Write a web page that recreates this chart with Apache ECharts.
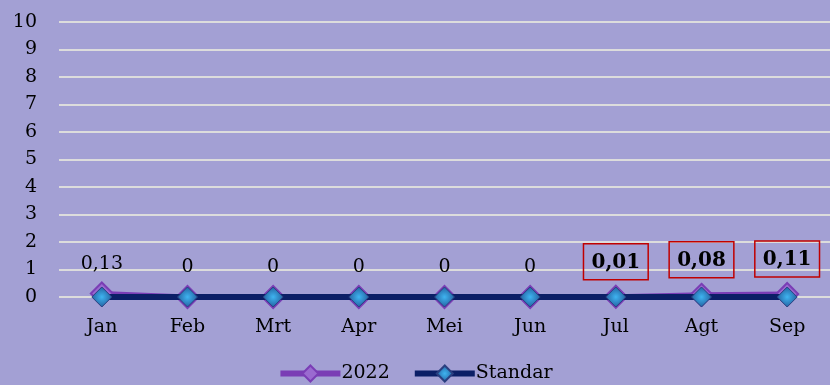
<!DOCTYPE html>
<html>
<head>
<meta charset="utf-8">
<script src="https://cdn.jsdelivr.net/npm/echarts@6/dist/echarts.min.js"></script>
<style>
html,body{margin:0;padding:0;background:#a3a0d4;}
#main{width:830px;height:385px;}
</style>
</head>
<body>
<div id="main"></div>
<script>
// data
var months = ['Jan','Feb','Mrt','Apr','Mei','Jun','Jul','Agt','Sep'];
var data2022 = [0.13, 0, 0, 0, 0, 0, 0.01, 0.08, 0.11];
var dataStandar = [0, 0, 0, 0, 0, 0, 0, 0, 0];
var boxedIdx = [6, 7, 8]; // label dengan kotak merah

var fontFam = '"DejaVu Serif", "Liberation Serif", serif';

var markerFill = new echarts.graphic.RadialGradient(0.5, 0.5, 0.6, [
    {offset: 0, color: '#3fb4f0'},
    {offset: 1, color: '#1d4f8f'}
]);

function fmt(v){
    return String(v).replace('.', ',');
}

var seriesData2022 = [];
for(var i=0;i<data2022.length;i++){
    var item = {value: data2022[i]};
    if(boxedIdx.indexOf(i) > -1){
        item.label = {
            fontWeight: 'bold',
            fontSize: 20,
            borderColor: '#c00000',
            borderWidth: 1.5,
            padding: [9, 8, 7, 8],
            distance: 5
        };
    }
    seriesData2022.push(item);
}

var myChart = echarts.init(document.getElementById('main'));
var option = {
    backgroundColor: '#a3a0d4',
    animation: false,
    grid: {left: 59, right: -10, top: 22, bottom: 88},
    legend: {
        bottom: -3,
        left: 'center',
        itemWidth: 60,
        itemHeight: 20,
        itemGap: 22,
        textStyle: {fontFamily: fontFam, fontSize: 19, color: '#000', padding: [0, 0, 0, -4]},
        lineStyle: {width: 6},
        data: ['2022', 'Standar']
    },
    xAxis: {
        type: 'category',
        data: months,
        boundaryGap: true,
        axisLine: {show: false},
        axisTick: {show: false},
        axisLabel: {fontFamily: fontFam, fontSize: 19, color: '#000', margin: 21}
    },
    yAxis: {
        type: 'value',
        min: 0,
        max: 10,
        interval: 1,
        axisLine: {show: false},
        axisTick: {show: false},
        axisLabel: {fontFamily: fontFam, fontSize: 19, color: '#000', margin: 22},
        splitLine: {lineStyle: {color: '#dcdcdc', width: 2}}
    },
    series: [
        {
            name: '2022',
            type: 'line',
            data: seriesData2022,
            symbol: 'diamond',
            symbolSize: 22,
            lineStyle: {color: '#7a3db5', width: 5},
            itemStyle: {color: '#9a6ad0', borderColor: '#7a3db5', borderWidth: 2},
            label: {
                show: true,
                position: 'top',
                distance: 8,
                fontFamily: fontFam,
                fontSize: 19,
                color: '#000',
                formatter: function(p){ return fmt(p.value); }
            },
            z: 2
        },
        {
            name: 'Standar',
            type: 'line',
            data: dataStandar,
            symbol: 'diamond',
            symbolSize: 20,
            lineStyle: {color: '#0b1f66', width: 6},
            itemStyle: {color: markerFill, borderColor: '#2a3f80', borderWidth: 1},
            z: 3
        }
    ]
};
myChart.setOption(option);
</script>
</body>
</html>
